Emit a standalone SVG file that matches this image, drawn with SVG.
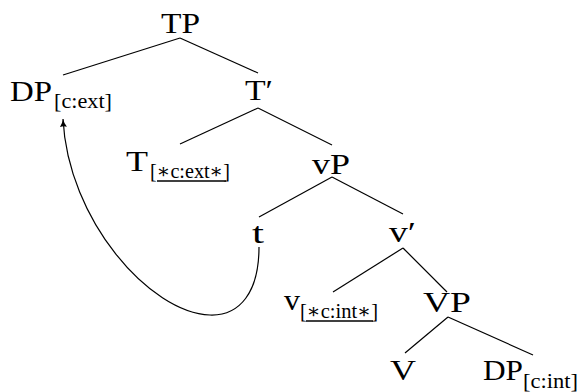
<svg xmlns="http://www.w3.org/2000/svg" width="579" height="392" viewBox="0 0 579 392">
<style>
.n{font-family:"Liberation Serif","DejaVu Serif",serif;font-size:30px;fill:#000}
.s{font-family:"Liberation Serif","DejaVu Serif",serif;font-size:20.5px;fill:#000}
.e{stroke:#000;stroke-width:1.2;fill:none}
.u{stroke:#000;stroke-width:1.3}
</style>
<defs>
<marker id="ah" markerWidth="10" markerHeight="10" refX="8" refY="4" orient="auto" markerUnits="userSpaceOnUse">
<path d="M0,0.5 Q4,3.2 8,4 Q4,4.8 0,7.5 Q1.5,4 0,0.5 Z" fill="#000"/>
</marker>
</defs>
<rect width="579" height="392" fill="#fff"/>
<g id="connectors">
<line class="e" x1="180" y1="38" x2="63" y2="75"/>
<line class="e" x1="180" y1="38" x2="258" y2="73"/>
<line class="e" x1="258" y1="108" x2="180" y2="144"/>
<line class="e" x1="258" y1="108" x2="332" y2="145"/>
<line class="e" x1="332" y1="177" x2="259" y2="217"/>
<line class="e" x1="332" y1="177" x2="403" y2="214"/>
<line class="e" x1="403" y1="248" x2="333" y2="292"/>
<line class="e" x1="403" y1="248" x2="447" y2="292"/>
<line class="e" x1="448" y1="317" x2="405" y2="353"/>
<line class="e" x1="448" y1="317" x2="533" y2="355"/>
<path class="e" d="M259,247 C259,292 240,316 210,315 C150,313 68,220 63,119" marker-end="url(#ah)"/>
</g>
<g id="TP"><text class="n" x="180.5" y="33" text-anchor="middle" textLength="39" lengthAdjust="spacingAndGlyphs">TP</text></g>
<g id="DP-ext"><text class="n" x="10" y="101" textLength="42" lengthAdjust="spacingAndGlyphs">DP</text><text class="s" x="54" y="108" textLength="58" lengthAdjust="spacingAndGlyphs">[c:ext]</text></g>
<g id="Tbar"><text class="n" x="245" y="100" textLength="28" lengthAdjust="spacingAndGlyphs">T′</text></g>
<g id="T"><text class="n" x="126" y="171" textLength="22" lengthAdjust="spacingAndGlyphs">T</text><text class="s" x="150" y="178" textLength="80" lengthAdjust="spacingAndGlyphs">[∗c:ext∗]</text><line class="u" x1="157" y1="181" x2="226" y2="181"/></g>
<g id="vP"><text class="n" x="331" y="174" text-anchor="middle" textLength="38" lengthAdjust="spacingAndGlyphs">vP</text></g>
<g id="t"><text class="n" x="258" y="243" text-anchor="middle" textLength="12" lengthAdjust="spacingAndGlyphs">t</text></g>
<g id="vbar"><text class="n" x="389" y="242" textLength="27" lengthAdjust="spacingAndGlyphs">v′</text></g>
<g id="v"><text class="n" x="284" y="310" textLength="16" lengthAdjust="spacingAndGlyphs">v</text><text class="s" x="300" y="318" textLength="78" lengthAdjust="spacingAndGlyphs">[∗c:int∗]</text><line class="u" x1="306" y1="321" x2="373" y2="321"/></g>
<g id="VP"><text class="n" x="447" y="312" text-anchor="middle" textLength="48" lengthAdjust="spacingAndGlyphs">VP</text></g>
<g id="V"><text class="n" x="403" y="380" text-anchor="middle" textLength="26" lengthAdjust="spacingAndGlyphs">V</text></g>
<g id="DP-int"><text class="n" x="483" y="380" textLength="40" lengthAdjust="spacingAndGlyphs">DP</text><text class="s" x="523" y="388" textLength="55" lengthAdjust="spacingAndGlyphs">[c:int]</text></g>
</svg>
